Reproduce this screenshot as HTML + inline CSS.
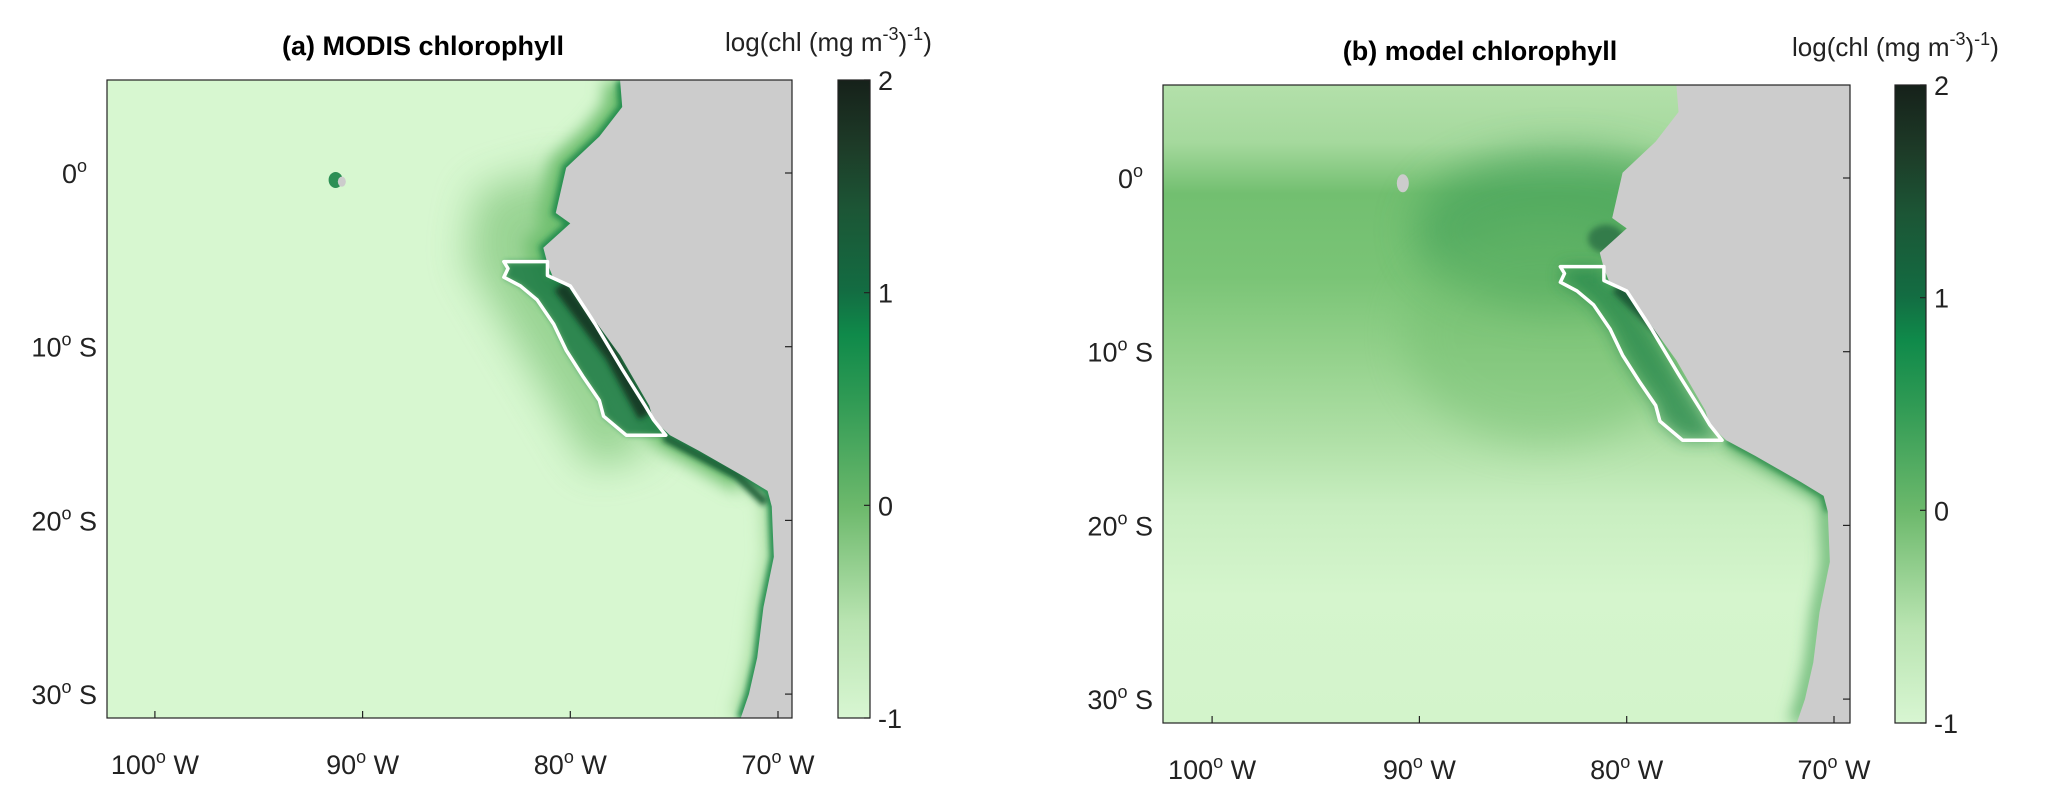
<!DOCTYPE html>
<html><head><meta charset="utf-8">
<style>
html,body{margin:0;padding:0;background:#fff;overflow:hidden;width:2067px;height:791px;}
svg{display:block;font-family:"Liberation Sans",sans-serif;}
</style></head>
<body>
<svg id="fig" width="2067" height="791" viewBox="0 0 2067 791" xmlns="http://www.w3.org/2000/svg">
<defs>
<linearGradient id="cbar" x1="0" y1="1" x2="0" y2="0">
<stop offset="0" stop-color="#d8f6d2"/>
<stop offset="0.15" stop-color="#b9e4b1"/>
<stop offset="0.33" stop-color="#6db96c"/>
<stop offset="0.5" stop-color="#2f9a54"/>
<stop offset="0.6" stop-color="#0f8a4a"/>
<stop offset="0.67" stop-color="#136c42"/>
<stop offset="0.8" stop-color="#1c5535"/>
<stop offset="0.9" stop-color="#1d3a27"/>
<stop offset="1" stop-color="#16211a"/>
</linearGradient>
<linearGradient id="bgB" x1="0" y1="0" x2="0" y2="1">
<stop offset="0" stop-color="#b3e0aa"/>
<stop offset="0.09" stop-color="#a5d99d"/>
<stop offset="0.17" stop-color="#72bf70"/>
<stop offset="0.3" stop-color="#7ac476"/>
<stop offset="0.42" stop-color="#93d18b"/>
<stop offset="0.55" stop-color="#aedfa5"/>
<stop offset="0.66" stop-color="#c8eec0"/>
<stop offset="0.8" stop-color="#d5f5cd"/>
<stop offset="1" stop-color="#d3f4cb"/>
</linearGradient>
<filter id="blur20" filterUnits="userSpaceOnUse" x="0" y="0" width="2067" height="791"><feGaussianBlur stdDeviation="20"/></filter>
<filter id="blur8" filterUnits="userSpaceOnUse" x="0" y="0" width="2067" height="791"><feGaussianBlur stdDeviation="8"/></filter>
<filter id="blur3" filterUnits="userSpaceOnUse" x="0" y="0" width="2067" height="791"><feGaussianBlur stdDeviation="3"/></filter>
<clipPath id="clipA"><rect x="107" y="80" width="685" height="638"/></clipPath>
<clipPath id="clipB"><rect x="1163" y="85" width="687" height="638"/></clipPath>
</defs>
<g id="root"></g>
</svg>
<script>
// ---- data ----
const latTicks = [0, -10, -20, -30];
const latLabels = ["0", "10", "20", "30"];
const lonTicks = [-100, -90, -80, -70];
const lonLabels = ["100", "90", "80", "70"];
const cbTicks = [2, 1, 0, -1];
const cbLabels = ["2", "1", "0", "-1"];
const coastLon = [-77.6,-77.5,-78.6,-80.2,-80.7,-80.0,-81.3,-81.1,-80.8,-79.9,-77.6,-76.2,-76.0,-75.2,-73.8,-71.6,-70.5,-70.3,-70.2,-70.7,-71.0,-71.4,-71.8];
const coastLat = [5.3,3.8,2.1,0.3,-2.3,-2.9,-4.3,-5.2,-6.1,-6.7,-10.5,-13.4,-14.2,-15.1,-16.0,-17.5,-18.3,-19.2,-22.1,-25.0,-27.9,-30.0,-31.4];
const boxLon = [-83.2,-81.1,-81.1,-80.0,-78.8,-77.5,-76.4,-76.0,-75.4,-77.3,-78.4,-78.6,-79.4,-80.2,-80.8,-81.6,-82.4,-83.2,-83.0];
const boxLat = [-5.1,-5.1,-5.9,-6.5,-8.7,-11.3,-13.4,-14.2,-15.1,-15.1,-14.0,-13.1,-11.7,-10.2,-8.7,-7.3,-6.5,-6.0,-5.5];

const NS = "http://www.w3.org/2000/svg";
const root = document.getElementById('root');
function mk(tag, attrs, parent){const e=document.createElementNS(NS,tag);for(const k in attrs)e.setAttribute(k,attrs[k]);(parent||root).appendChild(e);return e;}

const panels = [
 {id:'a', title:'(a) MODIS chlorophyll', x0:107,x1:792,y0:80,y1:718, lon70:778, degX:20.77, lat0:173, degY:17.37, cbx:838, cbw:32, titleX:423, unitX:725, clip:'clipA'},
 {id:'b', title:'(b) model chlorophyll', x0:1163,x1:1850,y0:85,y1:723, lon70:1834, degX:20.73, lat0:178, degY:17.37, cbx:1895, cbw:31, titleX:1480, unitX:1792, clip:'clipB'}
];

panels.forEach(p=>{
 const X = lon => p.lon70 + (lon+70)*p.degX;
 const Y = lat => p.lat0 - lat*p.degY;
 const g = mk('g',{});
 
 
 const m = mk('g',{'clip-path':'url(#'+p.clip+')'},g);
 
 
 const coastPts = coastLon.map((l,i)=>X(l)+','+Y(coastLat[i]));
 const boxPts = boxLon.map((l,i)=>X(l)+','+Y(boxLat[i])).join(' ');
 if(p.id==='a'){
  mk('rect',{x:p.x0,y:p.y0,width:p.x1-p.x0,height:p.y1-p.y0,fill:'#d7f7d0'},m);
  // halo
  mk('polygon',{points:[X(-84.5)+','+Y(-1),X(-80)+','+Y(0.5),X(-79)+','+Y(-8),X(-76)+','+Y(-16),X(-79)+','+Y(-17),X(-82.5)+','+Y(-10),X(-85)+','+Y(-5)].join(' '),fill:'#93d08d',opacity:0.9,filter:'url(#blur20)'},m);
  mk('polyline',{points:coastPts.slice(0,16).join(' '),fill:'none',stroke:'#6fbf6f','stroke-width':34,filter:'url(#blur8)'},m);
  mk('polyline',{points:coastPts.slice(15).join(' '),fill:'none',stroke:'#a7dca0','stroke-width':20,filter:'url(#blur8)'},m);
  mk('polyline',{points:coastPts.join(' '),fill:'none',stroke:'#238b4e','stroke-width':8,filter:'url(#blur3)'},m);
  mk('polygon',{points:boxPts,fill:'#1c7a45',opacity:0.85,filter:'url(#blur3)'},m);
  mk('polyline',{points:[X(-80.5)+','+Y(-6.5),X(-78)+','+Y(-10.5),X(-76.4)+','+Y(-14)].join(' '),fill:'none',stroke:'#163d28','stroke-width':14,filter:'url(#blur3)'},m);
  mk('polyline',{points:[X(-75.5)+','+Y(-15.2),X(-72)+','+Y(-17.4),X(-70.6)+','+Y(-19)].join(' '),fill:'none',stroke:'#1d5e38','stroke-width':8,filter:'url(#blur3)'},m);
  mk('ellipse',{cx:X(-91.3),cy:Y(-0.4),rx:7,ry:8,fill:'#2d8f55'},m);
  mk('ellipse',{cx:X(-91.0),cy:Y(-0.5),rx:4,ry:5,fill:'#cccccc'},m);
 } else {
  mk('rect',{x:p.x0,y:p.y0,width:p.x1-p.x0,height:p.y1-p.y0,fill:'url(#bgB)'},m);
  mk('ellipse',{cx:X(-83),cy:Y(-3),rx:150,ry:80,fill:'#3f9f57',opacity:0.6,filter:'url(#blur20)'},m);
  mk('ellipse',{cx:X(-84),cy:Y(-9),rx:140,ry:110,fill:'#6dbb6b',opacity:0.4,filter:'url(#blur20)'},m);
  mk('polygon',{points:boxPts,fill:'#2a8a4e',opacity:0.8,filter:'url(#blur8)'},m);
  mk('polyline',{points:[X(-80.5)+','+Y(-6.3),X(-78.2)+','+Y(-9)].join(' '),fill:'none',stroke:'#1c5c38','stroke-width':12,filter:'url(#blur3)'},m);
  mk('ellipse',{cx:X(-81),cy:Y(-3.5),rx:18,ry:14,fill:'#2b7045',opacity:0.8,filter:'url(#blur3)'},m);
  mk('polyline',{points:coastPts.slice(13).join(' '),fill:'none',stroke:'#4ca65c','stroke-width':12,filter:'url(#blur8)'},m);
  mk('polyline',{points:coastPts.slice(13,18).join(' '),fill:'none',stroke:'#2a8c4c','stroke-width':6,filter:'url(#blur3)'},m);
  mk('ellipse',{cx:X(-90.8),cy:Y(-0.3),rx:6,ry:9,fill:'#cccccc'},m);
 }
 // land
 const land = mk('polygon',{points:coastPts.concat([X(-60)+','+Y(-40),X(-60)+','+Y(10),X(-77.6)+','+Y(10)]).join(' '),fill:'#cccccc'},m);
 
 
 const box = mk('polygon',{points:boxPts,fill:'none',stroke:'#ffffff','stroke-width':3.5,'stroke-linejoin':'round'},m);
 
 
 // axes frame
 const fr = mk('rect',{x:p.x0,y:p.y0,width:p.x1-p.x0,height:p.y1-p.y0,fill:'none',stroke:'#222','stroke-width':1.2},g);
 
 
 latTicks.forEach((t,i)=>{
  const y=Y(t);
  mk('line',{x1:p.x1-7,y1:y,x2:p.x1,y2:y,stroke:'#222','stroke-width':1.2},g);
  const tx = mk('text',{x:p.x0-10+(i===0?-10:0),y:y+10,'text-anchor':'end','font-size':27,fill:'#222'},g);
  
  
  tx.appendChild(document.createTextNode(latLabels[i]));
  const s=mk('tspan',{dy:-11,'font-size':18},tx); s.textContent='o';
  if(i>0){const s2=mk('tspan',{dy:11},tx); s2.textContent=' S';}
 });
 lonTicks.forEach((t,i)=>{
  const x=X(t);
  mk('line',{x1:x,y1:p.y1,x2:x,y2:p.y1-7,stroke:'#222','stroke-width':1.2},g);
  const tx = mk('text',{x:x,y:p.y1+56,'text-anchor':'middle','font-size':27,fill:'#222'},g);
  
  
  tx.appendChild(document.createTextNode(lonLabels[i]));
  const s=mk('tspan',{dy:-11,'font-size':18},tx); s.textContent='o';
  const s2=mk('tspan',{dy:11},tx); s2.textContent=' W';
 });
 const ti = mk('text',{x:p.titleX,y:p.y0-25,'text-anchor':'middle','font-size':27,'font-weight':'bold',fill:'#000'},g);
 
 
 ti.textContent=p.title;
 // colorbar
 const cbTop=p.y0, cbBot=p.y1;
 const CY = v => cbBot - (v+1)/3*(cbBot-cbTop);
 const cb = mk('rect',{x:p.cbx,y:cbTop,width:p.cbw,height:cbBot-cbTop,fill:'url(#cbar)',stroke:'#222','stroke-width':1.2},g);
 
 
 cbTicks.forEach((v,i)=>{
  const y=CY(v);
  mk('line',{x1:p.cbx+p.cbw-6,y1:y,x2:p.cbx+p.cbw,y2:y,stroke:'#222','stroke-width':1.2},g);
  const tx=mk('text',{x:p.cbx+p.cbw+8,y:y+10,'font-size':27,fill:'#222'},g);
  
  
  tx.textContent=cbLabels[i];
 });
 const u = mk('text',{x:p.unitX,y:p.y0-29,'font-size':26,fill:'#222'},g);
 
 
 u.appendChild(document.createTextNode('log(chl (mg m'));
 let s=mk('tspan',{dy:-11,'font-size':18},u); s.textContent='-3';
 s=mk('tspan',{dy:11},u); s.textContent=')';
 s=mk('tspan',{dy:-11,'font-size':18},u); s.textContent='-1';
 s=mk('tspan',{dy:11},u); s.textContent=')';
});
</script>
</body></html>
